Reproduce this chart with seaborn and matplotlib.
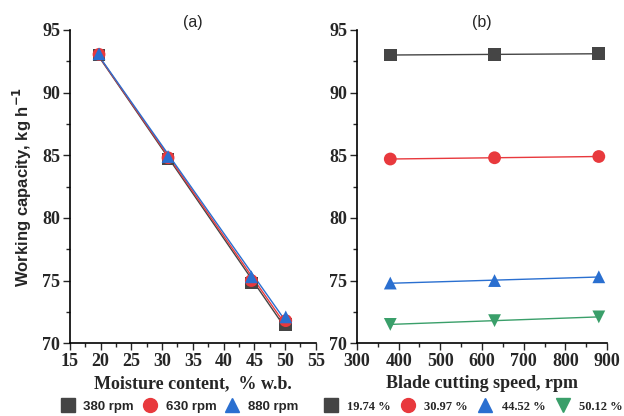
import numpy as np
import pandas as pd
import matplotlib
matplotlib.use("Agg")
import matplotlib.pyplot as plt
from matplotlib.lines import Line2D
from matplotlib.ticker import MultipleLocator
import seaborn as sns

sns.set_style("ticks")

moisture = [19.74, 30.97, 44.52, 50.12]
speeds = [380, 630, 880]
speed_labels = ["380 rpm", "630 rpm", "880 rpm"]
moisture_labels = ["19.74 %", "30.97 %", "44.52 %", "50.12 %"]
# capacity[speed][moisture]
cap_380 = [93.0, 84.7, 74.8, 71.5]
cap_630 = [93.05, 84.8, 75.0, 71.8]
cap_880 = [93.1, 84.9, 75.3, 72.1]
capacity = [cap_380, cap_630, cap_880]

colors = ["#454545", "#e8393d", "#2a6fd0", "#3a9f6a"]
markers = ["s", "o", "^", "v"]

serif = "Liberation Serif"
sans = "Liberation Sans"

fig = plt.figure(figsize=(6.24, 4.16), dpi=100)
axa = fig.add_axes([0.112, 0.175, 0.394, 0.753])
axb = fig.add_axes([0.572, 0.175, 0.401, 0.753])

# Panel (a)
for i, sp in enumerate(speeds):
    df = pd.DataFrame({"m": moisture, "c": capacity[i]})
    sns.regplot(data=df, x="m", y="c", ax=axa, ci=None, marker=markers[i],
                color=colors[i],
                scatter_kws=dict(s=85, edgecolors="none", alpha=1, zorder=3),
                line_kws=dict(lw=1.0, zorder=2))

# Panel (b)
for j, mc in enumerate(moisture):
    vals = [capacity[i][j] for i in range(len(speeds))]
    df = pd.DataFrame({"s": speeds, "c": vals})
    sns.regplot(data=df, x="s", y="c", ax=axb, ci=None, marker=markers[j],
                color=colors[j],
                scatter_kws=dict(s=85, edgecolors="none", alpha=1, zorder=3),
                line_kws=dict(lw=1.0, zorder=2))

for ax in (axa, axb):
    ax.set_ylim(70, 95)
    ax.yaxis.set_major_locator(MultipleLocator(5))
    ax.yaxis.set_minor_locator(MultipleLocator(2.5))
    sns.despine(ax=ax)
    ax.tick_params(which="major", direction="out", length=5, width=1, labelsize=13, pad=2)
    ax.tick_params(which="minor", direction="out", length=3, width=1)
    for s in ("left", "bottom"):
        ax.spines[s].set_linewidth(1.2)
        ax.spines[s].set_color("black")

axa.set_xlim(15, 55)
axa.xaxis.set_major_locator(MultipleLocator(5))
axa.xaxis.set_minor_locator(MultipleLocator(2.5))
axb.set_xlim(300, 900)
axb.xaxis.set_major_locator(MultipleLocator(100))
axb.xaxis.set_minor_locator(MultipleLocator(50))
for ax in (axa, axb):
    for lab in ax.get_xticklabels() + ax.get_yticklabels():
        lab.set_fontfamily(serif)
        lab.set_fontweight("bold")

axa.set_xlabel("Moisture content,  % w.b.", fontfamily=serif, fontweight="bold", fontsize=13, labelpad=4)
axb.set_xlabel("Blade cutting speed, rpm", fontfamily=serif, fontweight="bold", fontsize=13, labelpad=4)
axa.set_ylabel("Working capacity, kg h$^{\\mathbf{-1}}$", fontfamily=sans, fontweight="bold", fontsize=12, labelpad=6)
axb.set_ylabel("")

axa.set_title("(a)", fontfamily=sans, fontsize=11.5, pad=2)
axb.set_title("(b)", fontfamily=sans, fontsize=11.5, pad=2)

ha = [Line2D([], [], ls="none", marker=markers[i], color=colors[i], markersize=10) for i in range(3)]
fig.legend(ha, speed_labels, loc="center", bbox_to_anchor=(0.287, 0.022), ncol=3, frameon=False,
           prop=dict(family=sans, weight="bold", size=9.5), handletextpad=0.6, columnspacing=0.6,
           handlelength=1.2)
hb = [Line2D([], [], ls="none", marker=markers[j], color=colors[j], markersize=10) for j in range(4)]
fig.legend(hb, moisture_labels, loc="center", bbox_to_anchor=(0.757, 0.022), ncol=4, frameon=False,
           prop=dict(family=serif, weight="bold", size=9), handletextpad=0.6, columnspacing=0.7,
           handlelength=1.4)

fig.savefig("out.png", dpi=100, facecolor="white")
